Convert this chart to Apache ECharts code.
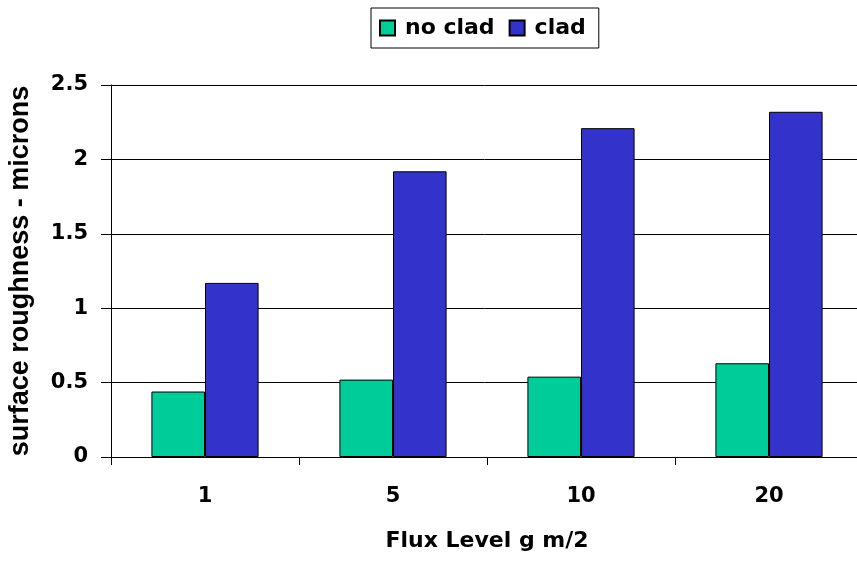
<!DOCTYPE html>
<html>
<head>
<meta charset="utf-8">
<script src="https://cdn.jsdelivr.net/npm/echarts@6/dist/echarts.min.js"></script>
<style>
html,body{margin:0;padding:0;background:#fff;}
#chart{width:857px;height:561px;}
</style>
</head>
<body>
<div id="chart"></div>
<script>
const categories = ['1', '5', '10', '20'];
const noClad = [0.44, 0.52, 0.54, 0.63];
const clad = [1.17, 1.92, 2.21, 2.32];
const seriesNames = ['no clad', 'clad'];
const xTitle = 'Flux Level g m/2';
const yTitle = 'surface roughness - microns';

const FONT = '"DejaVu Sans", sans-serif';
const chart = echarts.init(document.getElementById('chart'), null, {renderer: 'canvas'});
chart.setOption({
  animation: false,
  backgroundColor: '#ffffff',
  legend: {
    data: seriesNames,
    left: 371,
    top: 8,
    orient: 'horizontal',
    padding: [9, 13, 9, 8],
    itemGap: 14,
    itemWidth: 15,
    itemHeight: 15,
    icon: 'rect',
    borderColor: '#000',
    borderWidth: 1,
    backgroundColor: '#fff',
    textStyle: {fontFamily: FONT, fontWeight: 'bold', fontSize: 22, color: '#000', padding: [0, 0, 0, 5]}
  },
  grid: {left: 111, top: 85, width: 752, height: 372, containLabel: false, outerBoundsMode: 'none'},
  xAxis: {
    type: 'category',
    data: categories,
    boundaryGap: true,
    name: xTitle,
    nameLocation: 'middle',
    nameGap: 73,
    nameTextStyle: {fontFamily: FONT, fontWeight: 'bold', fontSize: 22, color: '#000'},
    axisLine: {show: true, lineStyle: {color: '#000', width: 1}},
    axisTick: {show: true, alignWithLabel: false, length: 8, lineStyle: {color: '#000'}},
    axisLabel: {fontFamily: FONT, fontWeight: 'bold', fontSize: 21, color: '#000', margin: 29},
    splitLine: {show: false}
  },
  yAxis: {
    type: 'value',
    min: 0,
    max: 2.5,
    interval: 0.5,
    name: yTitle,
    nameLocation: 'middle',
    nameGap: 77,
    nameRotate: 90,
    nameTextStyle: {fontFamily: '"Liberation Sans", Arial, sans-serif', fontWeight: 'bold', fontSize: 27, color: '#000'},
    axisLine: {show: true, lineStyle: {color: '#000', width: 1}},
    axisTick: {show: true, inside: false, length: 10, lineStyle: {color: '#000'}},
    axisLabel: {fontFamily: FONT, fontWeight: 'bold', fontSize: 21, color: '#000', margin: 23},
    splitLine: {show: true, lineStyle: {color: '#000', width: 1}}
  },
  series: [
    {
      name: seriesNames[0],
      type: 'bar',
      data: noClad,
      barGap: '0%',
      barCategoryGap: '43%',
      itemStyle: {color: '#00CC99', borderColor: '#000', borderWidth: 1}
    },
    {
      name: seriesNames[1],
      type: 'bar',
      data: clad,
      barGap: '0%',
      barCategoryGap: '43%',
      itemStyle: {color: '#3333CC', borderColor: '#000', borderWidth: 1}
    }
  ]
});
</script>
</body>
</html>
